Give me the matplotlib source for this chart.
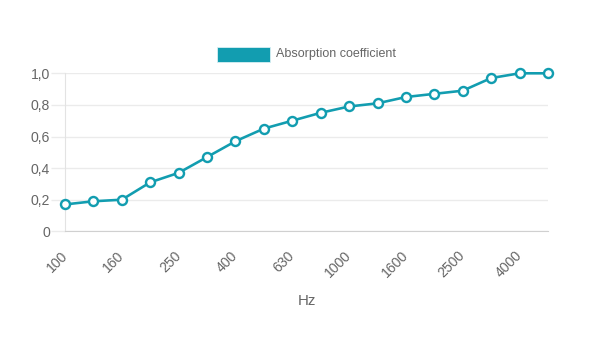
import matplotlib
matplotlib.use("Agg")
import matplotlib.pyplot as plt
from matplotlib.patches import Rectangle

plt.rcParams["font.family"] = ["Liberation Sans", "DejaVu Sans"]

# octave-band centre frequencies and measured absorption
BANDS = ["100", "125", "160", "200", "250", "315", "400", "500", "630",
         "800", "1000", "1250", "1600", "2000", "2500", "3150", "4000", "5000"]
ALPHA = [0.17, 0.19, 0.20, 0.31, 0.37, 0.47, 0.57, 0.65, 0.70,
         0.75, 0.79, 0.81, 0.85, 0.87, 0.89, 0.97, 1.00, 1.00]
Y_TICKS = [0, 0.2, 0.4, 0.6, 0.8, 1.0]
SERIES = "Absorption coefficient"

TEAL = "#129db0"
GRID = "#ebebeb"
TEXT = "#666666"
W, H = 613, 348


def px(v):
    # pixels -> points at dpi 100
    return v * 72 / 100


fig = plt.figure(figsize=(W / 100, H / 100), dpi=100)
ax = fig.add_axes([65 / W, 1 - 231.3 / H, (548 - 65) / W, (231.3 - 73.3) / H])

x = list(range(len(BANDS)))
ax.plot(x, ALPHA, color=TEAL, lw=px(2.6), marker="o", ms=px(9),
        mfc="white", mec=TEAL, mew=px(2.4), zorder=5, clip_on=False)

ax.set_xlim(0, len(BANDS) - 1)
ax.set_ylim(0, 1.0)

ax.set_yticks(Y_TICKS)
ax.set_yticklabels(["0" if v == 0 else f"{v:.1f}".replace(".", ",") for v in Y_TICKS])
ax.yaxis.grid(True, color=GRID, lw=1)
ax.tick_params(axis="y", length=10, width=1, color=GRID, pad=px(1),
               labelsize=px(14), labelcolor=TEXT)

ax.set_xticks(x[::2])
ax.set_xticklabels(BANDS[::2], rotation=45, ha="right", va="center",
                   rotation_mode="anchor")
ax.tick_params(axis="x", length=0, pad=px(22), labelsize=px(14),
               labelcolor=TEXT)
ax.set_xlabel("Hz", fontsize=px(15), color=TEXT, labelpad=px(14))

for side in ("top", "right"):
    ax.spines[side].set_visible(False)
ax.spines["left"].set_color("#e3e3e3")
ax.spines["bottom"].set_color("#d0d0d0")
ax.set_axisbelow(True)

# legend box and label
fig.patches.append(Rectangle((216.7 / W, 1 - 61.7 / H), 53 / W, 14.4 / H,
                             transform=fig.transFigure, facecolor=TEAL,
                             edgecolor="#d8eff3", lw=0.6))
fig.text(275.5 / W, 1 - 54.5 / H, SERIES, fontsize=px(12.5), color=TEXT,
         ha="left", va="center")

fig.savefig("out.png", dpi=100, facecolor="white")
